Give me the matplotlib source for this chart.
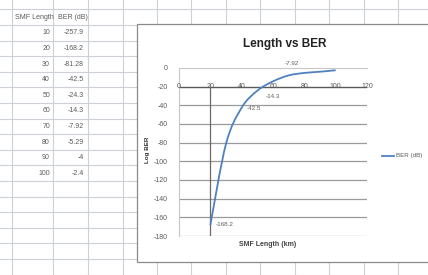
import numpy as np
import matplotlib
matplotlib.use("Agg")
import matplotlib.pyplot as plt
from matplotlib.path import Path
from matplotlib.patches import PathPatch, Rectangle

# ---- data ----
smf_length = [10, 20, 30, 40, 50, 60, 70, 80, 90, 100]
ber_db = [-257.9, -168.2, -81.28, -42.5, -24.3, -14.3, -7.92, -5.29, -4, -2.4]
ber_text = ["-257.9", "-168.2", "-81.28", "-42.5", "-24.3", "-14.3", "-7.92", "-5.29", "-4", "-2.4"]
table_headers = ["SMF Length", "BER (dB)"]
x_ticks = [0, 20, 40, 60, 80, 100, 120]
y_ticks = [0, -20, -40, -60, -80, -100, -120, -140, -160, -180]
labeled_idx = [1, 3, 5, 6]  # points with data labels

FONT = ["Liberation Sans Narrow", "Liberation Sans", "DejaVu Sans"]
plt.rcParams["font.family"] = FONT

W, H = 428, 275
fig = plt.figure(figsize=(W / 100, H / 100), dpi=100)
fig.patch.set_facecolor("white")

# ---- spreadsheet background (pixel coordinates) ----
bg = fig.add_axes([0, 0, 1, 1])
bg.set_xlim(0, W)
bg.set_ylim(H, 0)
bg.axis("off")
grid_c = "#ccd1d8"
col_lines = [12, 53, 88, 123] + list(np.arange(157, W, 34.5))
row_lines = np.arange(9.4, H + 1, 15.6)
for cx in col_lines:
    bg.plot([cx, cx], [0, H], color=grid_c, lw=0.8, zorder=1)
for ry in row_lines:
    bg.plot([0, W], [ry, ry], color=grid_c, lw=0.8, zorder=1)

txt_c = "#5a5a5a"
bg.text(15, 17.2, table_headers[0], fontsize=5, color=txt_c, ha="left", va="center")
bg.text(58, 17.2, table_headers[1], fontsize=5, color=txt_c, ha="left", va="center")
for i, (L, s) in enumerate(zip(smf_length, ber_text)):
    yy = 17.2 + 15.6 * (i + 1)
    bg.text(50, yy, str(L), fontsize=5, color=txt_c, ha="right", va="center")
    bg.text(84, yy, s, fontsize=5, color=txt_c, ha="right", va="center")

# chart box
bg.add_patch(Rectangle((137, 24), W - 137 + 5, 238, facecolor="white",
                       edgecolor="#8a8a8a", lw=0.9, zorder=3))
bg.text(285, 44, "Length vs BER", fontsize=8.5, fontweight="bold", color="#222222",
        ha="center", va="center", zorder=4)
bg.text(148, 150, "Log BER", fontsize=4.5, fontweight="bold", color="#333333",
        rotation=90, ha="center", va="center", zorder=4)
bg.text(268, 245, "SMF Length (km)", fontsize=5, fontweight="bold", color="#444444",
        ha="center", va="center", zorder=4)
# legend
bg.plot([382, 394], [156, 156], color="#4F81BD", lw=1.3, zorder=4)
bg.text(396, 156, "BER (dB)", fontsize=4.5, color=txt_c, ha="left", va="center", zorder=4)

# ---- plot area ----
x0, x1, y0, y1 = 179, 367, 68, 236
ax = fig.add_axes([x0 / W, 1 - y1 / H, (x1 - x0) / W, (y1 - y0) / H])
ax.set_facecolor("none")
ax.set_xlim(0, 120)
ax.set_ylim(-180, 0)
for side in ["right", "bottom"]:
    ax.spines[side].set_visible(False)
for side in ["left", "top"]:
    ax.spines[side].set_color("#c8c8c8")
    ax.spines[side].set_linewidth(0.8)
ax.set_xticks([])
ax.set_yticks(y_ticks)
ax.set_yticklabels([str(v) for v in y_ticks], fontsize=5, color=txt_c)
ax.tick_params(axis="y", length=0, pad=8)

for v in y_ticks[2:]:
    ax.axhline(v, color="#9a9a9a", lw=0.9, zorder=1)
# axis lines
ax.axhline(-20, color="#5a5a5a", lw=1.0, zorder=2)
ax.plot([20, 20], [-180, -20], color="#6a6a6a", lw=0.9, zorder=2)
for v in x_ticks:
    ax.text(v, -19.5, str(v), fontsize=5, color=txt_c, ha="center", va="center",
            clip_on=False, zorder=3)

# smooth series (Catmull-Rom rendered as Bezier path)
xs = np.array(smf_length[1:], dtype=float)
ys = np.array(ber_db[1:], dtype=float)
P = np.column_stack([xs, ys])
n = len(P)
verts = [tuple(P[0])]
codes = [Path.MOVETO]
for i in range(n - 1):
    p0 = P[i - 1] if i > 0 else P[i]
    p3 = P[i + 2] if i + 2 < n else P[i + 1]
    c1 = P[i] + (P[i + 1] - p0) / 6.0
    c2 = P[i + 1] - (p3 - P[i]) / 6.0
    verts += [tuple(c1), tuple(c2), tuple(P[i + 1])]
    codes += [Path.CURVE4] * 3
ax.add_patch(PathPatch(Path(verts, codes), facecolor="none", edgecolor="#4F81BD",
                       lw=1.3, zorder=4))

# data labels
offsets = {1: (5, 0, "left", "center"), 3: (5, -1, "left", "center"),
           5: (0, -15, "center", "center"), 6: (3, 12, "center", "center")}
for i in labeled_idx:
    dx, dy, ha, va = offsets[i]
    ax.annotate(ber_text[i], (smf_length[i], ber_db[i]), xytext=(dx * 0.72, dy * 0.72),
                textcoords="offset points", fontsize=4.5, color=txt_c, ha=ha, va=va,
                zorder=5)

fig.savefig("out.png", dpi=100)
